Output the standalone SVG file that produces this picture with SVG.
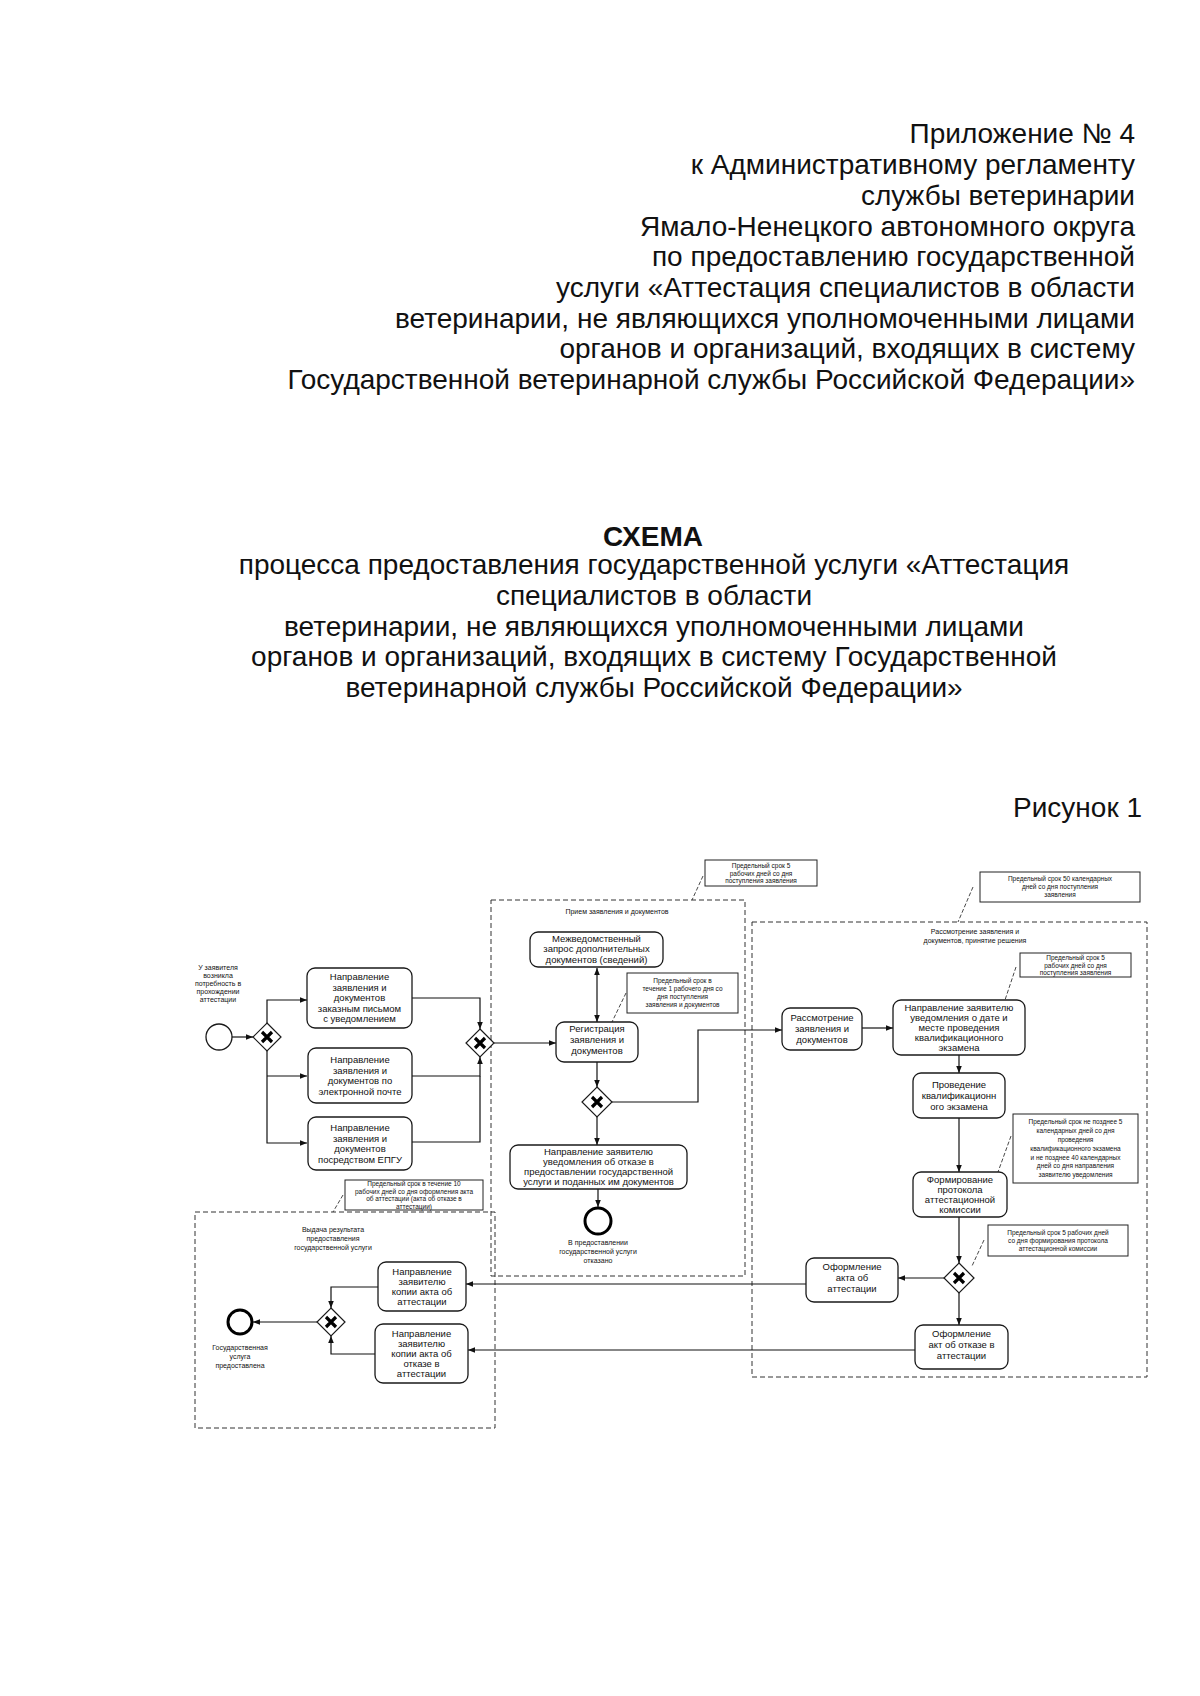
<svg xmlns="http://www.w3.org/2000/svg" width="1200" height="1696" viewBox="0 0 1200 1696">
<style>
text{font-family:"Liberation Sans",Arial,sans-serif;fill:#111}
.h{font-size:28px}
.hb{font-size:28px;font-weight:bold}
.t{font-size:9.5px;text-anchor:middle}
.s{font-size:7px;text-anchor:middle}
.n{font-size:6.5px;text-anchor:middle}
.task{fill:#fff;stroke:#1a1a1a;stroke-width:1.3}
.lane{fill:none;stroke:#333;stroke-width:1;stroke-dasharray:5 3}
.note{fill:#fff;stroke:#222;stroke-width:1}
.lead{fill:none;stroke:#333;stroke-width:0.9;stroke-dasharray:4 2}
.gw{fill:#fff;stroke:#1a1a1a;stroke-width:1.2}
.gx{stroke:#000;stroke-width:3.2;stroke-linecap:butt}
.c{fill:none;stroke:#111;stroke-width:1.2}
.ev{fill:#fff;stroke:#1a1a1a;stroke-width:1.3}
.evend{fill:#fff;stroke:#000;stroke-width:3}
</style>
<defs>
<marker id="arr" viewBox="0 0 10 10" refX="10" refY="5" markerWidth="7" markerHeight="7" orient="auto-start-reverse" markerUnits="userSpaceOnUse"><path d="M0,1 L10,5 L0,9 z" fill="#111"/></marker>
</defs>
<rect width="1200" height="1696" fill="#fff"/>

<g id="header" text-anchor="end">
<text class="h" x="1135" y="143">Приложение № 4</text>
<text class="h" x="1135" y="174">к Административному регламенту</text>
<text class="h" x="1135" y="205">службы ветеринарии</text>
<text class="h" x="1135" y="236">Ямало-Ненецкого автономного округа</text>
<text class="h" x="1135" y="266">по предоставлению государственной</text>
<text class="h" x="1135" y="297">услуги «Аттестация специалистов в области</text>
<text class="h" x="1135" y="328">ветеринарии, не являющихся уполномоченными лицами</text>
<text class="h" x="1135" y="358">органов и организаций, входящих в систему</text>
<text class="h" x="1135" y="389">Государственной ветеринарной службы Российской Федерации»</text>
</g>

<g id="title" text-anchor="middle">
<text class="hb" x="653" y="546">СХЕМА</text>
<text class="h" x="654" y="574">процесса предоставления государственной услуги «Аттестация</text>
<text class="h" x="654" y="605">специалистов в области</text>
<text class="h" x="654" y="636">ветеринарии, не являющихся уполномоченными лицами</text>
<text class="h" x="654" y="666">органов и организаций, входящих в систему Государственной</text>
<text class="h" x="654" y="697">ветеринарной службы Российской Федерации»</text>
</g>
<text id="fig" class="h" x="1142" y="817" text-anchor="end">Рисунок 1</text>

<g id="lanes">
<g id="lane-priem"><rect class="lane" x="491" y="900" width="254" height="376"/><text class="s" x="617" y="914">Прием заявления и документов</text></g>
<g id="lane-rassm"><rect class="lane" x="752" y="922" width="395" height="455"/><text class="s" x="975" y="934">Рассмотрение заявления и</text><text class="s" x="975" y="943">документов, принятие решения</text></g>
<g id="lane-vydacha"><rect class="lane" x="195" y="1212" width="300" height="216"/><text class="s" x="333" y="1232">Выдача результата</text><text class="s" x="333" y="1241">предоставления</text><text class="s" x="333" y="1250">государственной услуги</text></g>
</g>

<g id="notes">
<g id="note1"><rect class="note" x="705" y="860" width="112" height="26"/><text class="n" x="761" y="868">Предельный срок 5</text><text class="n" x="761" y="875.5">рабочих дней со дня</text><text class="n" x="761" y="883">поступления заявления</text><path class="lead" d="M703,876 L692,900"/></g>
<g id="note2"><rect class="note" x="980" y="872" width="160" height="30"/><text class="n" x="1060" y="881">Предельный срок 50 календарных</text><text class="n" x="1060" y="889">дней со дня  поступления</text><text class="n" x="1060" y="897">заявления</text><path class="lead" d="M973,887 L958,922"/></g>
<g id="note3"><rect class="note" x="627" y="973" width="111" height="40"/><text class="n" x="682.5" y="983">Предельный срок в</text><text class="n" x="682.5" y="991">течение 1 рабочего дня со</text><text class="n" x="682.5" y="999">дня поступления</text><text class="n" x="682.5" y="1007">заявления и документов</text><path class="lead" d="M626,993 L612,1022"/></g>
<g id="note4"><rect class="note" x="1020" y="953" width="111" height="24"/><text class="n" x="1075.5" y="960">Предельный срок 5</text><text class="n" x="1075.5" y="967.5">рабочих дней со дня</text><text class="n" x="1075.5" y="975">поступления заявления</text><path class="lead" d="M1016,967 L1005,1000"/></g>
<g id="note5"><rect class="note" x="1013" y="1114" width="125" height="69"/><text class="n" x="1075.5" y="1124">Предельный срок не позднее 5</text><text class="n" x="1075.5" y="1133">календарных дней со дня</text><text class="n" x="1075.5" y="1142">проведения</text><text class="n" x="1075.5" y="1150.5">квалификационного экзамена</text><text class="n" x="1075.5" y="1159.5">и не позднее 40 календарных</text><text class="n" x="1075.5" y="1168">дней со дня направления</text><text class="n" x="1075.5" y="1177">заявителю уведомления</text><path class="lead" d="M1011,1136 L998,1172"/></g>
<g id="note6"><rect class="note" x="988" y="1225" width="140" height="31"/><text class="n" x="1058" y="1234.5">Предельный срок 5 рабочих дней</text><text class="n" x="1058" y="1242.5">со дня формирования протокола</text><text class="n" x="1058" y="1250.5">аттестационной комиссии</text><path class="lead" d="M984,1240 L972,1266"/></g>
<g id="note7"><rect class="note" x="345" y="1180" width="138" height="30"/><text class="n" x="414" y="1186">Предельный срок в течение 10</text><text class="n" x="414" y="1193.5">рабочих дней со дня оформления акта</text><text class="n" x="414" y="1201">об аттестации (акта об отказе в</text><text class="n" x="414" y="1208.5">аттестации)</text><path class="lead" d="M343,1195 L333,1212"/></g>
</g>

<g id="connectors">
<path class="c" d="M232,1037 H253" marker-end="url(#arr)"/>
<path class="c" d="M267,1023 V1000 H307" marker-end="url(#arr)"/>
<path class="c" d="M267,1051 V1143 H307" marker-end="url(#arr)"/>
<path class="c" d="M267,1076 H307" marker-end="url(#arr)"/>
<path class="c" d="M412,998 H480 V1029" marker-end="url(#arr)"/>
<path class="c" d="M412,1076 H480 V1057" marker-end="url(#arr)"/>
<path class="c" d="M412,1142 H480 V1076"/>
<path class="c" d="M494,1043 H556" marker-end="url(#arr)"/>
<path class="c" d="M597,968 V1022" marker-start="url(#arr)" marker-end="url(#arr)"/>
<path class="c" d="M597,1062 V1087" marker-end="url(#arr)"/>
<path class="c" d="M612,1102 H698 V1030 H782" marker-end="url(#arr)"/>
<path class="c" d="M597,1117 V1145" marker-end="url(#arr)"/>
<path class="c" d="M598,1189 V1207" marker-end="url(#arr)"/>
<path class="c" d="M862,1028 H893" marker-end="url(#arr)"/>
<path class="c" d="M959,1055 V1073" marker-end="url(#arr)"/>
<path class="c" d="M959,1118 V1172" marker-end="url(#arr)"/>
<path class="c" d="M959,1217 V1263" marker-end="url(#arr)"/>
<path class="c" d="M944,1278 H898" marker-end="url(#arr)"/>
<path class="c" d="M959,1293 V1325" marker-end="url(#arr)"/>
<path class="c" d="M806,1284 H466" marker-end="url(#arr)"/>
<path class="c" d="M915,1350 H468" marker-end="url(#arr)"/>
<path class="c" d="M378,1287 H331 V1308" marker-end="url(#arr)"/>
<path class="c" d="M375,1354 H331 V1336" marker-end="url(#arr)"/>
<path class="c" d="M317,1322 H253" marker-end="url(#arr)"/>
</g>

<g id="start"><circle class="ev" cx="219" cy="1037" r="13"/><text class="s" x="218" y="969.5">У заявителя</text><text class="s" x="218" y="977.5">возникла</text><text class="s" x="218" y="985.5">потребность в</text><text class="s" x="218" y="993.5">прохождении</text><text class="s" x="218" y="1001.5">аттестации</text></g>

<g id="gw1"><polygon class="gw" points="267,1023 281,1037 267,1051 253,1037"/><path class="gx" d="M262,1032 L272,1042 M272,1032 L262,1042"/></g>

<g id="t1"><rect class="task" x="307" y="968" width="105" height="60" rx="8"/><text class="t" x="359.5" y="980">Направление</text><text class="t" x="359.5" y="990.5">заявления и</text><text class="t" x="359.5" y="1001">документов</text><text class="t" x="359.5" y="1011.5">заказным письмом</text><text class="t" x="359.5" y="1022">с уведомлением</text></g>
<g id="t2"><rect class="task" x="308" y="1048" width="104" height="55" rx="8"/><text class="t" x="360" y="1063">Направление</text><text class="t" x="360" y="1073.5">заявления и</text><text class="t" x="360" y="1084">документов по</text><text class="t" x="360" y="1094.5">электронной почте</text></g>
<g id="t3"><rect class="task" x="308" y="1117" width="104" height="53" rx="8"/><text class="t" x="360" y="1131">Направление</text><text class="t" x="360" y="1141.5">заявления и</text><text class="t" x="360" y="1152">документов</text><text class="t" x="360" y="1162.5">посредством ЕПГУ</text></g>

<g id="gw2"><polygon class="gw" points="480,1029 494,1043 480,1057 466,1043"/><path class="gx" d="M475,1038 L485,1048 M485,1038 L475,1048"/></g>

<g id="mezhved"><rect class="task" x="530" y="932" width="133" height="35" rx="8"/><text class="t" x="596.5" y="941.5">Межведомственный</text><text class="t" x="596.5" y="952">запрос дополнительных</text><text class="t" x="596.5" y="962.5">документов (сведений)</text></g>
<g id="reg"><rect class="task" x="556" y="1022" width="82" height="40" rx="8"/><text class="t" x="597" y="1032">Регистрация</text><text class="t" x="597" y="1043">заявления и</text><text class="t" x="597" y="1054">документов</text></g>
<g id="gw3"><polygon class="gw" points="597,1087 612,1102 597,1117 582,1102"/><path class="gx" d="M592,1097 L602,1107 M602,1097 L592,1107"/></g>
<g id="otkaz"><rect class="task" x="510" y="1145" width="177" height="44" rx="8"/><text class="t" x="598.5" y="1155">Направление заявителю</text><text class="t" x="598.5" y="1165">уведомления об отказе в</text><text class="t" x="598.5" y="1175">предоставлении государственной</text><text class="t" x="598.5" y="1185">услуги и поданных им документов</text></g>
<g id="end-otkaz"><circle class="evend" cx="598" cy="1221" r="13"/><text class="s" x="598" y="1245">В предоставлении</text><text class="s" x="598" y="1254">государственной услуги</text><text class="s" x="598" y="1263">отказано</text></g>

<g id="rassm"><rect class="task" x="782" y="1008" width="80" height="42" rx="8"/><text class="t" x="822" y="1021">Рассмотрение</text><text class="t" x="822" y="1032">заявления и</text><text class="t" x="822" y="1043">документов</text></g>
<g id="uved"><rect class="task" x="893" y="1000" width="132" height="55" rx="8"/><text class="t" x="959" y="1011">Направление заявителю</text><text class="t" x="959" y="1021">уведомления о дате и</text><text class="t" x="959" y="1031">месте проведения</text><text class="t" x="959" y="1041">квалификационного</text><text class="t" x="959" y="1051">экзамена</text></g>
<g id="ekzamen"><rect class="task" x="913" y="1073" width="92" height="45" rx="8"/><text class="t" x="959" y="1088">Проведение</text><text class="t" x="959" y="1099">квалификационн</text><text class="t" x="959" y="1110">ого экзамена</text></g>
<g id="protokol"><rect class="task" x="913" y="1172" width="94" height="45" rx="8"/><text class="t" x="960" y="1183">Формирование</text><text class="t" x="960" y="1193">протокола</text><text class="t" x="960" y="1203">аттестационной</text><text class="t" x="960" y="1213">комиссии</text></g>
<g id="gw4"><polygon class="gw" points="959,1263 974,1278 959,1293 944,1278"/><path class="gx" d="M954,1273 L964,1283 M964,1273 L954,1283"/></g>
<g id="akt"><rect class="task" x="806" y="1258" width="92" height="44" rx="8"/><text class="t" x="852" y="1270">Оформление</text><text class="t" x="852" y="1281">акта об</text><text class="t" x="852" y="1292">аттестации</text></g>
<g id="akt-otkaz"><rect class="task" x="915" y="1325" width="93" height="44" rx="8"/><text class="t" x="961.5" y="1337">Оформление</text><text class="t" x="961.5" y="1348">акт об отказе в</text><text class="t" x="961.5" y="1359">аттестации</text></g>

<g id="kopia"><rect class="task" x="378" y="1262" width="88" height="49" rx="8"/><text class="t" x="422" y="1275">Направление</text><text class="t" x="422" y="1285">заявителю</text><text class="t" x="422" y="1295">копии  акта об</text><text class="t" x="422" y="1305">аттестации</text></g>
<g id="kopia-otkaz"><rect class="task" x="375" y="1324" width="93" height="59" rx="8"/><text class="t" x="421.5" y="1337">Направление</text><text class="t" x="421.5" y="1347">заявителю</text><text class="t" x="421.5" y="1357">копии  акта об</text><text class="t" x="421.5" y="1367">отказе в</text><text class="t" x="421.5" y="1377">аттестации</text></g>
<g id="gw5"><polygon class="gw" points="331,1308 345,1322 331,1336 317,1322"/><path class="gx" d="M326,1317 L336,1327 M336,1317 L326,1327"/></g>
<g id="end-ok"><circle class="evend" cx="240" cy="1322" r="12"/><text class="s" x="240" y="1350">Государственная</text><text class="s" x="240" y="1359">услуга</text><text class="s" x="240" y="1368">предоставлена</text></g>
</svg>
